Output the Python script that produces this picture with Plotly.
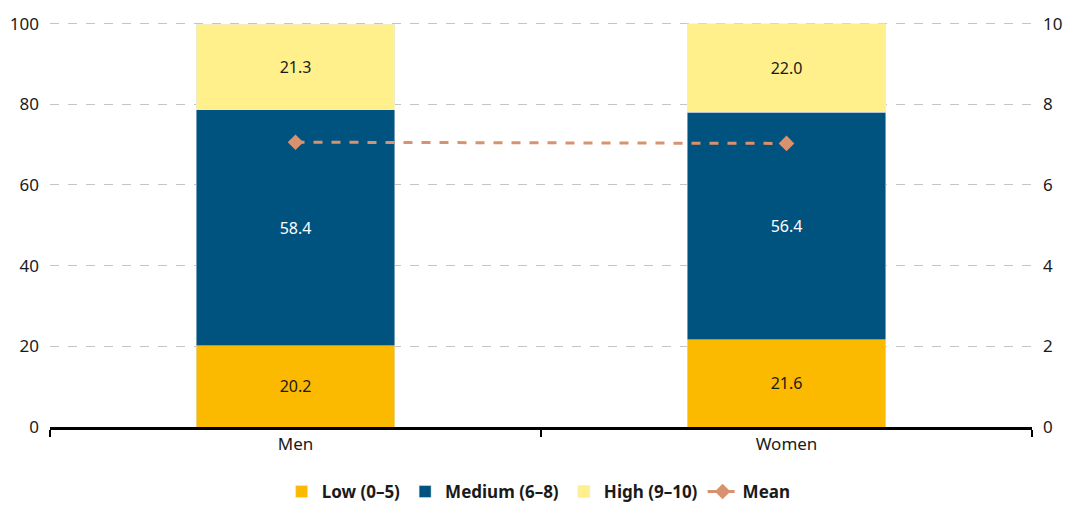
import plotly.graph_objects as go

groups = ['Men', 'Women']
low = [20.2, 21.6]
medium = [58.4, 56.4]
high = [21.3, 22.0]
mean = [7.06, 7.03]

font_family = 'Noto Sans, Open Sans, sans-serif'

fig = go.Figure()
fig.add_trace(go.Bar(x=groups, y=low, name='<b>Low (0–5)</b>', marker_color='#FBB900',
                     text=[f'{v:.1f}' for v in low], textposition='inside', insidetextanchor='middle',
                     textfont=dict(color='#1a1a1a', size=16)))
fig.add_trace(go.Bar(x=groups, y=medium, name='<b>Medium (6–8)</b>', marker_color='#00527F',
                     text=[f'{v:.1f}' for v in medium], textposition='inside', insidetextanchor='middle',
                     textfont=dict(color='white', size=16)))
fig.add_trace(go.Bar(x=groups, y=high, name='<b>High (9–10)</b>', marker_color='#FFF08C',
                     text=[f'{v:.1f}' for v in high], textposition='inside', insidetextanchor='middle',
                     textfont=dict(color='#1a1a1a', size=16)))
fig.add_trace(go.Scatter(x=groups, y=mean, name='<b>Mean</b>', yaxis='y2', mode='lines+markers',
                         line=dict(color='#D9926F', width=3, dash='dash'),
                         marker=dict(symbol='diamond', size=12, color='#D9926F')))

# the page body adds an 8px offset, so the figure is 8px smaller and margins shifted
fig.update_layout(
    barmode='stack',
    bargap=0.595,
    width=1072, height=502,
    margin=dict(l=42, r=48, t=14, b=83),
    plot_bgcolor='white', paper_bgcolor='white',
    font=dict(family=font_family, size=17, color='#1a1a1a'),
    uniformtext=dict(minsize=16, mode='show'),
    xaxis=dict(tickson='boundaries', ticks='outside', ticklen=7, tickwidth=2, tickcolor='black',
               showline=True, linecolor='black', linewidth=2.5, showgrid=False, automargin=False),
    yaxis=dict(range=[0, 100.4], tickvals=[0, 20, 40, 60, 80, 100], showgrid=True,
               gridcolor='#c4c4c4', griddash='dash', gridwidth=1, zeroline=False, ticks='',
               ticklabelstandoff=10, automargin=False),
    yaxis2=dict(range=[0, 10.04], tickvals=[0, 2, 4, 6, 8, 10], overlaying='y', side='right',
                showgrid=False, zeroline=False, ticks='', ticklabelstandoff=10, automargin=False),
    legend=dict(orientation='h', x=0.495, xanchor='center', xref='container',
                y=-0.028, yanchor='bottom', yref='container',
                font=dict(size=17), traceorder='normal', itemwidth=30, tracegroupgap=0),
)

fig.write_html('out.html')
